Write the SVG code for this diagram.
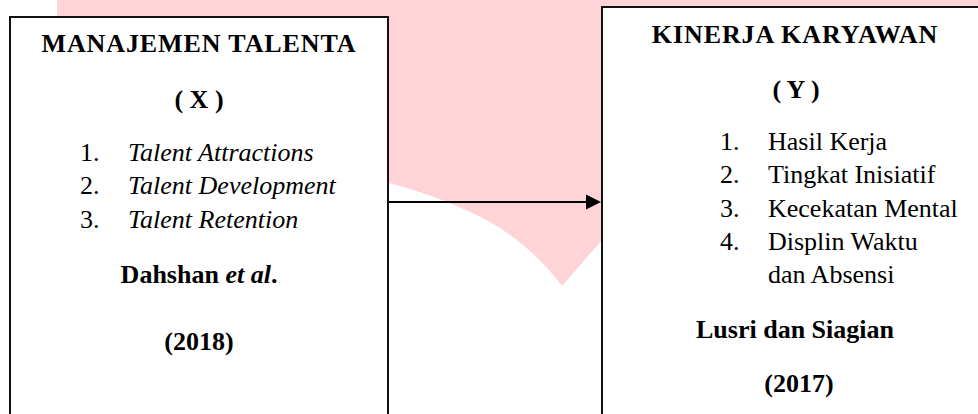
<svg xmlns="http://www.w3.org/2000/svg" width="978" height="414" viewBox="0 0 978 414">
<style>
.box{fill:#fff;stroke:#111;stroke-width:2}
text{font-family:'Liberation Serif','Times New Roman',Tinos,'DejaVu Serif',serif;font-size:26px;fill:#000;font-weight:normal}
.b{font-weight:bold}
.i{font-style:italic}
.c{text-anchor:middle}
.t{letter-spacing:0.9px}
.edge{stroke:#000;stroke-width:2;fill:none}
</style>
<path d="M57,0 H978 V300 L602,240 L562,286 C535,250 500,225 470,212 C440,198 410,188 388,183 L57,183 Z" fill="#ffd4d9"/>
<g id="node-x">
<rect class="box" x="10" y="17" width="378" height="420"/>
<text class="b c t" x="199" y="52">MANAJEMEN TALENTA</text>
<text class="b c" x="199" y="108">( X )</text>
<text x="80" y="161">1.</text><text class="i" x="128" y="161">Talent Attractions</text>
<text x="80" y="194">2.</text><text class="i" x="128" y="194">Talent Development</text>
<text x="80" y="228">3.</text><text class="i" x="128" y="228">Talent Retention</text>
<text class="b c" x="199" y="283">Dahshan <tspan class="i">et al</tspan>.</text>
<text class="b c" x="199" y="350">(2018)</text>
</g>
<g id="node-y">
<rect class="box" x="602" y="7" width="400" height="430"/>
<text class="b c t" x="795" y="43">KINERJA KARYAWAN</text>
<text class="b c" x="796" y="98">( Y )</text>
<text x="720" y="150">1.</text><text x="768" y="150">Hasil Kerja</text>
<text x="720" y="183">2.</text><text x="768" y="183">Tingkat Inisiatif</text>
<text x="720" y="217">3.</text><text x="768" y="217">Kecekatan Mental</text>
<text x="720" y="250">4.</text><text x="768" y="250">Displin Waktu</text>
<text x="768" y="283">dan Absensi</text>
<text class="b c" x="795" y="338">Lusri dan Siagian</text>
<text class="b c" x="799" y="392">(2017)</text>
</g>
<g id="connectors">
<line class="edge" x1="389" y1="202" x2="586" y2="202"/>
<path d="M586,194.5 L601,202 L586,209.5 Z" fill="#000"/>
</g>
</svg>
